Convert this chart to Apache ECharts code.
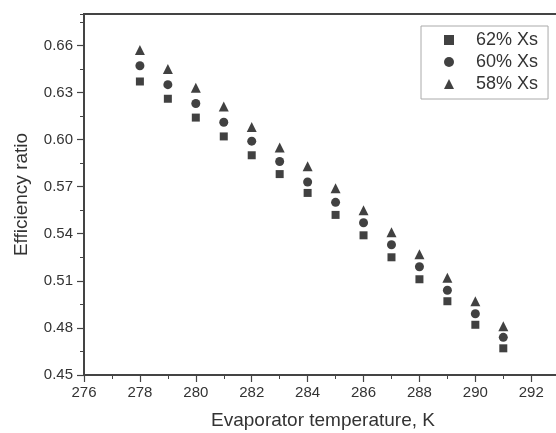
<!DOCTYPE html>
<html>
<head>
<meta charset="utf-8">
<script src="https://cdn.jsdelivr.net/npm/echarts@6/dist/echarts.min.js"></script>
<style>html,body{margin:0;padding:0;background:#fff;}#c{width:556px;height:433px;}</style>
</head>
<body>
<div id="c"></div>
<script>
const temperatures = [278, 279, 280, 281, 282, 283, 284, 285, 286, 287, 288, 289, 290, 291];
const xs62 = [0.637, 0.626, 0.614, 0.602, 0.590, 0.578, 0.566, 0.552, 0.539, 0.525, 0.511, 0.497, 0.482, 0.467];
const xs60 = [0.647, 0.635, 0.623, 0.611, 0.599, 0.586, 0.573, 0.560, 0.547, 0.533, 0.519, 0.504, 0.489, 0.474];
const xs58 = [0.657, 0.645, 0.633, 0.621, 0.608, 0.595, 0.583, 0.569, 0.555, 0.541, 0.527, 0.512, 0.497, 0.481];
const seriesNames = ['62% Xs', '60% Xs', '58% Xs'];
const yTicks = ['0.45','0.48','0.51','0.54','0.57','0.60','0.63','0.66'];

const font = 'Liberation Sans, Arial, sans-serif';
const txt = '#333';
const axisCol = '#444';
function pts(arr){ return temperatures.map((t,i)=>[t, arr[i]]); }

const chart = echarts.init(document.getElementById('c'), null, {renderer:'canvas'});
chart.setOption({
  animation: false,
  backgroundColor: '#fff',
  grid: {left: 84, top: 14, width: 478, bottom: 58, outerBoundsMode: 'none', containLabel: false,
         show: true, borderColor: axisCol, borderWidth: 2, backgroundColor: 'transparent'},
  legend: {
    orient: 'vertical', left: 421, top: 26,
    padding: [5, 10, 6, 23],
    itemGap: 4, itemWidth: 10, itemHeight: 10,
    borderColor: '#aaa', borderWidth: 1,
    textStyle: {fontFamily: font, fontSize: 18, color: txt, padding: [0,0,0,17]},
    data: seriesNames
  },
  xAxis: {
    type: 'value', min: 276, max: 293.1, interval: 2,
    name: 'Evaporator temperature, K', nameLocation: 'middle', nameGap: 36,
    nameTextStyle: {fontFamily: font, fontSize: 19, color: txt},
    axisLine: {show: true, lineStyle: {color: axisCol, width: 1.5}},
    axisTick: {show: true, inside: false, length: 7, lineStyle: {color: axisCol, width: 1.2}},
    minorTick: {show: true, splitNumber: 2, length: 4, lineStyle: {color: axisCol, width: 1}},
    axisLabel: {fontFamily: font, fontSize: 15, color: txt, margin: 10, showMaxLabel: false},
    splitLine: {show: false}, minorSplitLine: {show: false}
  },
  yAxis: [{
    type: 'value', min: 0.45, max: 0.68, interval: 0.03, position: 'left',
    name: 'Efficiency ratio', nameLocation: 'middle', nameGap: 53,
    nameTextStyle: {fontFamily: font, fontSize: 19, color: txt},
    axisLine: {show: true, lineStyle: {color: axisCol, width: 1.5}},
    axisTick: {show: true, length: 7, lineStyle: {color: axisCol, width: 1.2}},
    axisLabel: {fontFamily: font, fontSize: 15, color: txt, margin: 11, showMaxLabel: false,
      formatter: v => { const s = v.toFixed(2); return yTicks.indexOf(s) >= 0 ? s : ''; }},
    splitLine: {show: false}
  },{
    type: 'value', min: 0.45, max: 0.68, interval: 0.015, position: 'left', offset: 0,
    axisLine: {show: false},
    axisTick: {show: true, length: 4, lineStyle: {color: axisCol, width: 1}},
    axisLabel: {show: false},
    splitLine: {show: false}
  }],
  series: [
    {name: seriesNames[0], type: 'scatter', symbol: 'rect', symbolSize: 8, itemStyle: {color: '#111'}, data: pts(xs62)},
    {name: seriesNames[1], type: 'scatter', symbol: 'circle', symbolSize: 9, itemStyle: {color: '#111'}, data: pts(xs60)},
    {name: seriesNames[2], type: 'scatter', symbol: 'triangle', symbolSize: 10, itemStyle: {color: '#111'}, data: pts(xs58)}
  ]
});
</script>
</body>
</html>
